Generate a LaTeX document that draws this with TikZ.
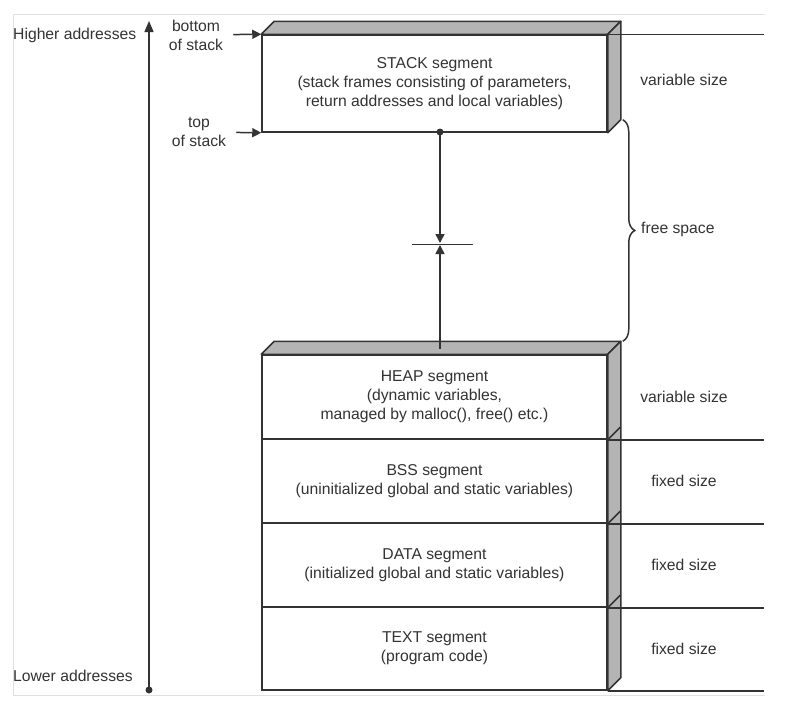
\documentclass[tikz,border=0pt]{standalone}
\usepackage{fontspec}
\setmainfont{Liberation Sans}
\usepackage{xcolor}
\usetikzlibrary{arrows.meta,decorations.pathreplacing}

\definecolor{inkgray}{HTML}{333333}
\definecolor{facegray}{HTML}{B4B4B4}
\definecolor{framegray}{HTML}{E0E0E0}

\begin{document}
\begin{tikzpicture}[x=1pt, y=-1pt,
  every node/.style={font=\fontsize{15.7}{19}\selectfont, text=inkgray},
  seg/.style={draw=inkgray, line width=1.5pt, fill=white, minimum width=345pt, inner sep=0pt, align=center},
  face/.style={draw=inkgray, line width=1.5pt, fill=facegray, line join=round},
  ln/.style={draw=inkgray, line width=1.5pt},
  ptr/.style={ln, -{Triangle[length=9pt,width=9pt]}},
  dot/.style={circle, fill=inkgray, inner sep=0pt, minimum size=7pt},
  lbl/.style={align=center, inner xsep=10pt, inner ysep=0pt}]
  \useasboundingbox (0,0) rectangle (792,704);
  \draw[framegray, line width=0.8pt] (765,14) -- (13,14) -- (13,695) -- (765,695);

  % Nodes
  \node[seg, minimum height=97pt] (stack) at (434.5,83.5) {STACK segment\\(stack frames consisting of parameters,\\return addresses and local variables)};
  \node[seg, minimum height=84pt] (heap) at (434.5,397) {HEAP segment\\(dynamic variables,\\managed by malloc(), free() etc.)};
  \node[seg, minimum height=84pt] (bss) at (434.5,481) {BSS segment\\(uninitialized global and static variables)};
  \node[seg, minimum height=84pt] (data) at (434.5,565) {DATA segment\\(initialized global and static variables)};
  \node[seg, minimum height=83pt] (text) at (434.5,648.5) {TEXT segment\\(program code)};
  \coordinate (edge) at (764,0);

  \node[anchor=west, inner sep=0pt] (higher) at (13,35) {Higher addresses};
  \node[anchor=west, inner sep=0pt] (lower) at (13,676) {Lower addresses};
  \node[lbl] (bottomlbl) at (196,35) {bottom\\of stack};
  \node[lbl] (toplbl) at (199,132) {top\\of stack};

  \node (stacksize) at (684,80) {variable size};
  \node (heapsize) at (684,397) {variable size};
  \node (bsssize) at (684,481) {fixed size};
  \node (datasize) at (684,565) {fixed size};
  \node (textsize) at (684,649) {fixed size};
  \node[anchor=west, inner sep=0pt] (free) at (641,229) {free space};

  \node[dot] (lowdot) at (149,690) {};
  \coordinate (hightip) at (149,21);
  \node[dot] (stackdot) at (440,132) {};
  \node[dot] (heapdot) at (440,348.5) {};
  \coordinate (meet) at (440,244);
  \coordinate (barL) at (412,244);
  \coordinate (barR) at (473,244);

  % 3D faces
  \draw[face] (stack.north west) -- ++(13,-13) -- ([shift={(13,-13)}]stack.north east) -- (stack.north east) -- cycle;
  \draw[face] (stack.north east) -- ++(13,-13) -- ([shift={(13,-13)}]stack.south east) -- (stack.south east) -- cycle;
  \draw[face] (heap.north west) -- ++(13,-13) -- ([shift={(13,-13)}]heap.north east) -- (heap.north east) -- cycle;
  \draw[face] (heap.north east) -- ++(13,-13) -- ([shift={(13,-13)}]text.south east) -- (text.south east) -- cycle;
  \foreach \s in {heap,bss,data}
    \draw[ln] (\s.south east) -- ++(13,-13);

  % Edges
  \draw[ln] (stack.north east) -- (stack.north east -| edge);
  \foreach \s in {heap,bss,data,text}
    \draw[ln] (\s.south east) -- (\s.south east -| edge);
  \draw[ln, decorate, decoration={brace, amplitude=12pt}] ([shift={(15,-13)}]stack.south east) -- ([shift={(15,-13)}]heap.north east);

  \draw[ptr, -{Triangle[length=11pt,width=9pt]}] (lowdot.center) -- (hightip);
  \draw[ptr] (bottomlbl) -- (stack.north west);
  \draw[ptr] (toplbl) -- (stack.south west);
  \draw[ptr] (stackdot.center) -- ([yshift=1pt]meet);
  \draw[ptr] (heapdot.center) -- ([yshift=-1pt]meet);
  \draw[inkgray, line width=0.9pt] (barL) -- (barR);
\end{tikzpicture}
\end{document}
